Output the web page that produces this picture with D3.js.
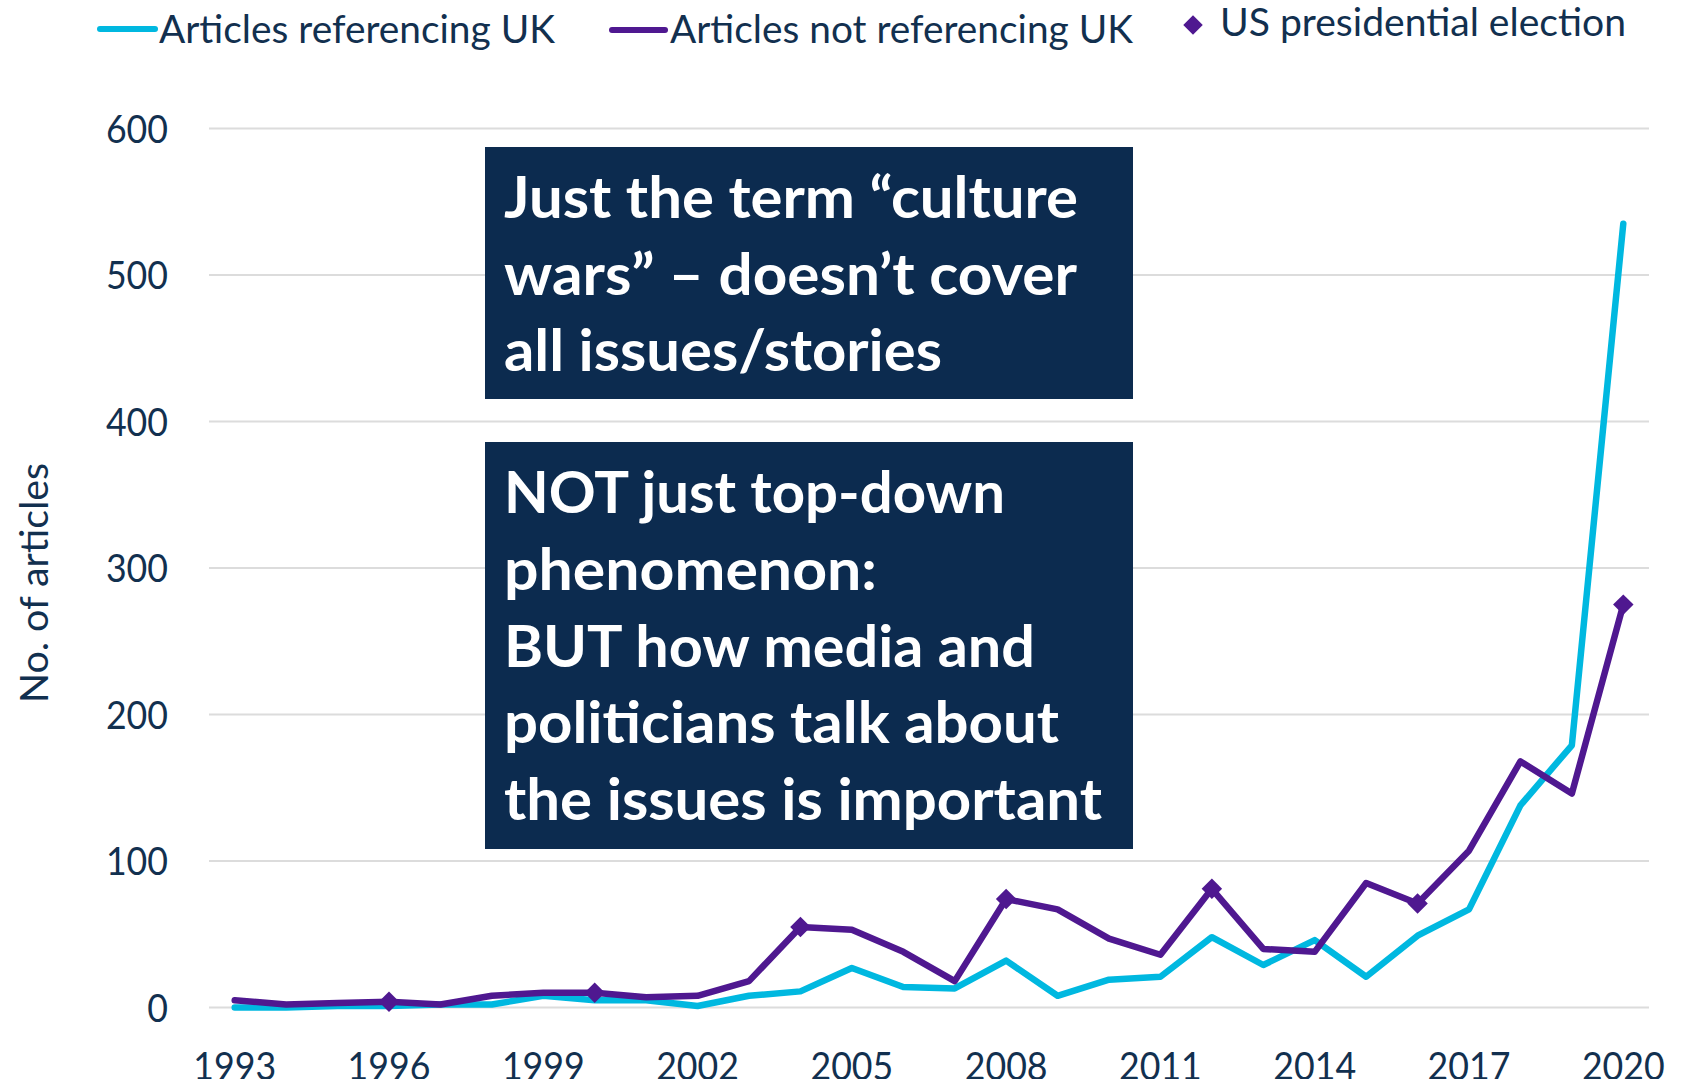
<!DOCTYPE html>
<html><head><meta charset="utf-8">
<script src="https://cdn.jsdelivr.net/npm/d3@7"></script>
<style>html,body{margin:0;padding:0;background:#fff;overflow:hidden}</style>
</head><body>
<svg id="chart" width="1696" height="1079"></svg>
<script>
// ---- data ----
const years = [1993,1994,1995,1996,1997,1998,1999,2000,2001,2002,2003,2004,2005,2006,
               2007,2008,2009,2010,2011,2012,2013,2014,2015,2016,2017,2018,2019,2020];
const referencingUK    = [0,0,1,1,2,2,8,5,5,1,8,11,27,14,13,32,8,19,21,48,29,46,21,49,67,138,179,535];
const notReferencingUK = [5,2,3,4,2,8,10,10,7,8,18,55,53,38,18,74,67,47,36,81,40,38,85,71,107,168,146,275];
const electionYears = [1996,2000,2004,2008,2012,2016,2020];
const yTicks = [0,100,200,300,400,500,600];
const xTickLabels = [1993,1996,1999,2002,2005,2008,2011,2014,2017,2020];
const seriesNames = ["Articles referencing UK","Articles not referencing UK","US presidential election"];
const yTitle = "No. of articles";
const note1 = ["Just the term \u201cculture","wars\u201d \u2013 doesn\u2019t cover","all issues/stories"];
const note2 = ["NOT just top-down","phenomenon:","BUT how media and","politicians talk about","the issues is important"];

// ---- style ----
const CYAN = "#00B8E0", PURPLE = "#4F1890", NAVY = "#0C2B4F", TXT = "#12304F", GRID = "#DCDCDC";
const FONT = "Lato, 'Open Sans', sans-serif";

const svg = d3.select("#chart");
const x = d3.scalePoint().domain(years).range([209, 1649]).padding(0.5);
const y = d3.scaleLinear().domain([0, 600]).range([1007.5, 128.5]);

function fit(sel, w){ sel.attr("textLength", w).attr("lengthAdjust", "spacingAndGlyphs"); }

// gridlines
svg.append("g").selectAll("line").data(yTicks).join("line")
  .attr("x1", 209).attr("x2", 1649)
  .attr("y1", d => y(d)).attr("y2", d => y(d))
  .attr("stroke", GRID).attr("stroke-width", 2);

// y tick labels
svg.append("g").selectAll("text").data(yTicks).join("text")
  .attr("x", 168).attr("y", d => y(d)).attr("dy", "0.36em")
  .attr("text-anchor", "end").attr("font-family", FONT).attr("font-size", 39)
  .attr("fill", TXT).text(d => d)
  .each(function(d){ fit(d3.select(this), String(d).length * 20.7); });

// x tick labels
svg.append("g").selectAll("text").data(xTickLabels).join("text")
  .attr("x", d => x(d)).attr("y", 1080)
  .attr("text-anchor", "middle").attr("font-family", FONT).attr("font-size", 39)
  .attr("fill", TXT).text(d => d)
  .each(function(d){ fit(d3.select(this), String(d).length * 20.7); });

// y title
svg.append("text")
  .attr("transform", "translate(48,583) rotate(-90)")
  .attr("text-anchor", "middle").attr("font-family", FONT).attr("font-size", 38)
  .attr("fill", TXT).text(yTitle).call(fit, 240);

// lines
const line = d3.line().x(d => x(d[0])).y(d => y(d[1]));
svg.append("path").datum(years.map((yr, i) => [yr, referencingUK[i]]))
  .attr("d", line).attr("fill", "none").attr("stroke", CYAN)
  .attr("stroke-width", 6.5).attr("stroke-linejoin", "round").attr("stroke-linecap", "round");
svg.append("path").datum(years.map((yr, i) => [yr, notReferencingUK[i]]))
  .attr("d", line).attr("fill", "none").attr("stroke", PURPLE)
  .attr("stroke-width", 6.5).attr("stroke-linejoin", "round").attr("stroke-linecap", "round");

// election markers
const diamond = d3.symbol().type(d3.symbolSquare).size(210);
svg.append("g").selectAll("path").data(electionYears).join("path")
  .attr("d", diamond)
  .attr("transform", d => `translate(${x(d)},${y(notReferencingUK[years.indexOf(d)])}) rotate(45)`)
  .attr("fill", PURPLE);

// annotation boxes
function box(lines, x0, y0, w, h, base0, step){
  const g = svg.append("g");
  g.append("rect").attr("x", x0).attr("y", y0).attr("width", w).attr("height", h).attr("fill", NAVY);
  g.selectAll("text").data(lines).join("text")
    .attr("x", 504).attr("y", (d, i) => base0 + i * step)
    .attr("font-family", FONT).attr("font-weight", 700).attr("font-size", 57)
    .attr("fill", "#fff").text(d => d);
  return g;
}
const b1 = box(note1, 485, 147, 648, 252, 218, 76.5);
const w1 = [574, 573, 438];
b1.selectAll("text").each(function(d, i){ fit(d3.select(this), w1[i]); });
const b2 = box(note2, 485, 442, 648, 407, 513, 76.8);
const w2 = [501, 373, 531, 555, 598];
b2.selectAll("text").each(function(d, i){ fit(d3.select(this), w2[i]); });

// legend
const lg = svg.append("g").attr("font-family", FONT).attr("font-size", 38).attr("fill", TXT);
lg.append("line").attr("x1", 100).attr("x2", 155).attr("y1", 29).attr("y2", 29)
  .attr("stroke", CYAN).attr("stroke-width", 6).attr("stroke-linecap", "round");
lg.append("text").attr("x", 159).attr("y", 43).text(seriesNames[0]).call(fit, 396);
lg.append("line").attr("x1", 612).attr("x2", 665).attr("y1", 30).attr("y2", 30)
  .attr("stroke", PURPLE).attr("stroke-width", 6).attr("stroke-linecap", "round");
lg.append("text").attr("x", 670).attr("y", 43).text(seriesNames[1]).call(fit, 463);
lg.append("path").attr("d", d3.symbol().type(d3.symbolSquare).size(190))
  .attr("transform", "translate(1193,25) rotate(45)").attr("fill", PURPLE);
lg.append("text").attr("x", 1220).attr("y", 36).text(seriesNames[2]).call(fit, 406);
</script>
</body></html>
